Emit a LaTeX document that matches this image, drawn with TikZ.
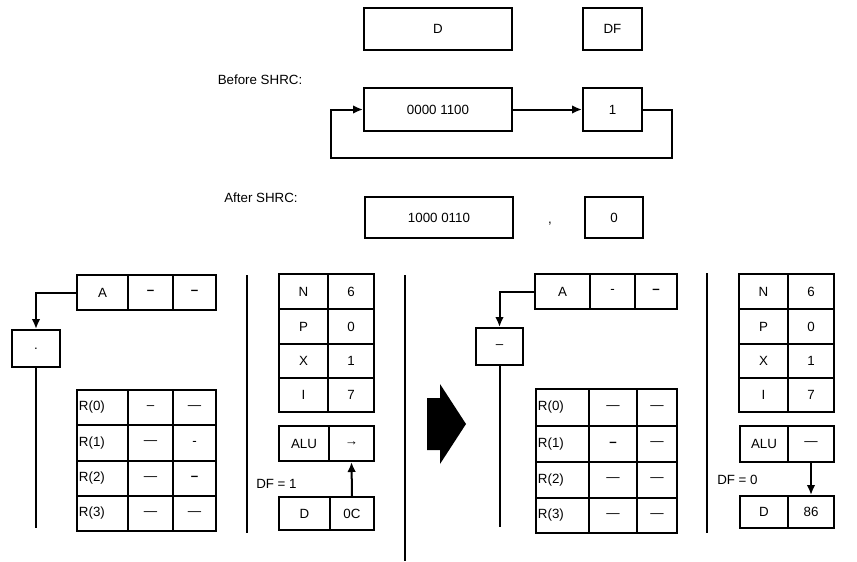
\documentclass[tikz,border=0pt]{standalone}
\usepackage{fontspec}
\setmainfont{Liberation Sans}
\usetikzlibrary{arrows.meta}
\tikzset{
  box/.style={draw, line width=1.5pt, inner sep=0pt, font=\fontsize{10}{12}\selectfont},
  lbl/.style={inner sep=0pt, font=\fontsize{10}{12}\selectfont},
  txt/.style={inner sep=0pt, font=\fontsize{10}{12}\selectfont},
  wire/.style={line width=1.5pt},
  arr/.style={line width=1.5pt, -{Latex[length=7.5pt,width=6.5pt]}},
  sepline/.style={line width=1.6pt}
}
\newcommand{\mybox}[6]{\node[box, minimum width={(#4-#2)*0.75pt}, minimum height={(#5-#3)*0.75pt}] (#1) at ({(#2+#4)/2},{(#3+#5)/2}) {#6};}
\newcommand{\mylbox}[6]{\node[box, minimum width={(#4-#2)*0.75pt}, minimum height={(#5-#3)*0.75pt}] (#1) at ({(#2+#4)/2},{(#3+#5)/2}) {};
  \node[lbl, anchor=west] (#1t) at ([xshift=2pt]#1.west) {#6};}
\begin{document}
\begin{tikzpicture}[x=0.75pt,y=-0.75pt]
\useasboundingbox (0,0) rectangle (857,561);
% ---------- top ----------
\mybox{dreg}{364}{8}{512}{50}{D}
\mybox{dfreg}{583}{8}{642}{50}{DF}
\node[txt] (before) at (260,80) {Before SHRC:};
\mybox{breg}{364}{88}{512}{131}{0000 1100}
\mybox{one}{583}{88}{642}{131}{1}
\coordinate (loopR) at (672,158);
\coordinate (loopL) at (331,158);
\draw[arr] (breg.east) -- (one.west);
\draw[arr] (one.east) -| (loopR) -- (loopL) |- (breg.west);
\node[txt] (after) at (261,198) {After SHRC:};
\mybox{areg}{365}{197}{513}{238}{1000 0110}
\node[txt] (comma) at (550,224) {,};
\mybox{zero}{585}{197}{643}{238}{0}
% ---------- left panel ----------
\mybox{la1}{77}{275}{128}{310}{A}
\mybox{la2}{128}{275}{173}{310}{\textbf{–}}
\mybox{la3}{173}{275}{216}{310}{\textbf{–}}
\mybox{lsb}{12}{330}{60}{367}{.}
\coordinate (lbot) at (36,528);
\draw[arr] (la1.west) -| (lsb.north);
\draw[wire] (lsb.south) -- (lbot);
\mylbox{lr0}{77}{390}{128}{425}{R(0)}
\mybox{lr0b}{128}{390}{173}{425}{–}
\mybox{lr0c}{173}{390}{216}{425}{—}
\mylbox{lr1}{77}{425}{128}{461}{R(1)}
\mybox{lr1b}{128}{425}{173}{461}{—}
\mybox{lr1c}{173}{425}{216}{461}{-}
\mylbox{lr2}{77}{461}{128}{496}{R(2)}
\mybox{lr2b}{128}{461}{173}{496}{—}
\mybox{lr2c}{173}{461}{216}{496}{\textbf{–}}
\mylbox{lr3}{77}{496}{128}{531}{R(3)}
\mybox{lr3b}{128}{496}{173}{531}{—}
\mybox{lr3c}{173}{496}{216}{531}{—}
\coordinate (ls1t) at (247,275);
\coordinate (ls1b) at (247,533);
\draw[sepline] (ls1t) -- (ls1b);
\mybox{ln}{279}{274}{328}{309}{N}
\mybox{lnv}{328}{274}{374}{309}{6}
\mybox{lp}{279}{309}{328}{344}{P}
\mybox{lpv}{328}{309}{374}{344}{0}
\mybox{lx}{279}{344}{328}{378}{X}
\mybox{lxv}{328}{344}{374}{378}{1}
\mybox{li}{279}{378}{328}{412}{I}
\mybox{liv}{328}{378}{374}{412}{7}
\mybox{lalu}{279}{426}{329}{461}{ALU}
\mybox{laluv}{329}{426}{374}{461}{→}
\node[txt, anchor=west] (ldf) at (256,484) {DF = 1};
\mybox{ld}{279}{497}{330}{530}{D}
\mybox{ldv}{330}{497}{374}{530}{0C}
\draw[arr] (ldv.north) -- (laluv.south);
% ---------- centre ----------
\coordinate (cst) at (405,275);
\coordinate (csb) at (405,561);
\draw[sepline] (cst) -- (csb);
\fill (427,398) -- (440,398) -- (440,384) -- (466,424) -- (440,464) -- (440,450) -- (427,450) -- cycle;
% ---------- right panel ----------
\mybox{ra1}{535}{274}{590}{309}{A}
\mybox{ra2}{590}{274}{635}{309}{-}
\mybox{ra3}{635}{274}{677}{309}{\textbf{–}}
\mybox{rsb}{476}{328}{523}{365}{–}
\coordinate (rbot) at (499.5,527);
\draw[arr] (ra1.west) -| (rsb.north);
\draw[wire] (rsb.south) -- (rbot);
\mylbox{rr0}{536}{389}{589}{426}{R(0)}
\mybox{rr0b}{589}{389}{637}{426}{—}
\mybox{rr0c}{637}{389}{677}{426}{—}
\mylbox{rr1}{536}{426}{589}{462}{R(1)}
\mybox{rr1b}{589}{426}{637}{462}{\textbf{–}}
\mybox{rr1c}{637}{426}{677}{462}{—}
\mylbox{rr2}{536}{462}{589}{498}{R(2)}
\mybox{rr2b}{589}{462}{637}{498}{—}
\mybox{rr2c}{637}{462}{677}{498}{—}
\mylbox{rr3}{536}{498}{589}{533}{R(3)}
\mybox{rr3b}{589}{498}{637}{533}{—}
\mybox{rr3c}{637}{498}{677}{533}{—}
\coordinate (rs1t) at (707,273);
\coordinate (rs1b) at (707,533);
\draw[sepline] (rs1t) -- (rs1b);
\mybox{rn}{739}{274}{788}{309}{N}
\mybox{rnv}{788}{274}{834}{309}{6}
\mybox{rp}{739}{309}{788}{344}{P}
\mybox{rpv}{788}{309}{834}{344}{0}
\mybox{rx}{739}{344}{788}{378}{X}
\mybox{rxv}{788}{344}{834}{378}{1}
\mybox{ri}{739}{378}{788}{412}{I}
\mybox{riv}{788}{378}{834}{412}{7}
\mybox{ralu}{740}{426}{788}{462}{ALU}
\mybox{raluv}{788}{426}{834}{462}{—}
\node[txt, anchor=west] (rdf) at (717,480) {DF = 0};
\mybox{rd}{740}{496}{788}{528}{D}
\mybox{rdv}{788}{496}{834}{528}{86}
\draw[arr] (raluv.south) -- (rdv.north);
\end{tikzpicture}
\end{document}
